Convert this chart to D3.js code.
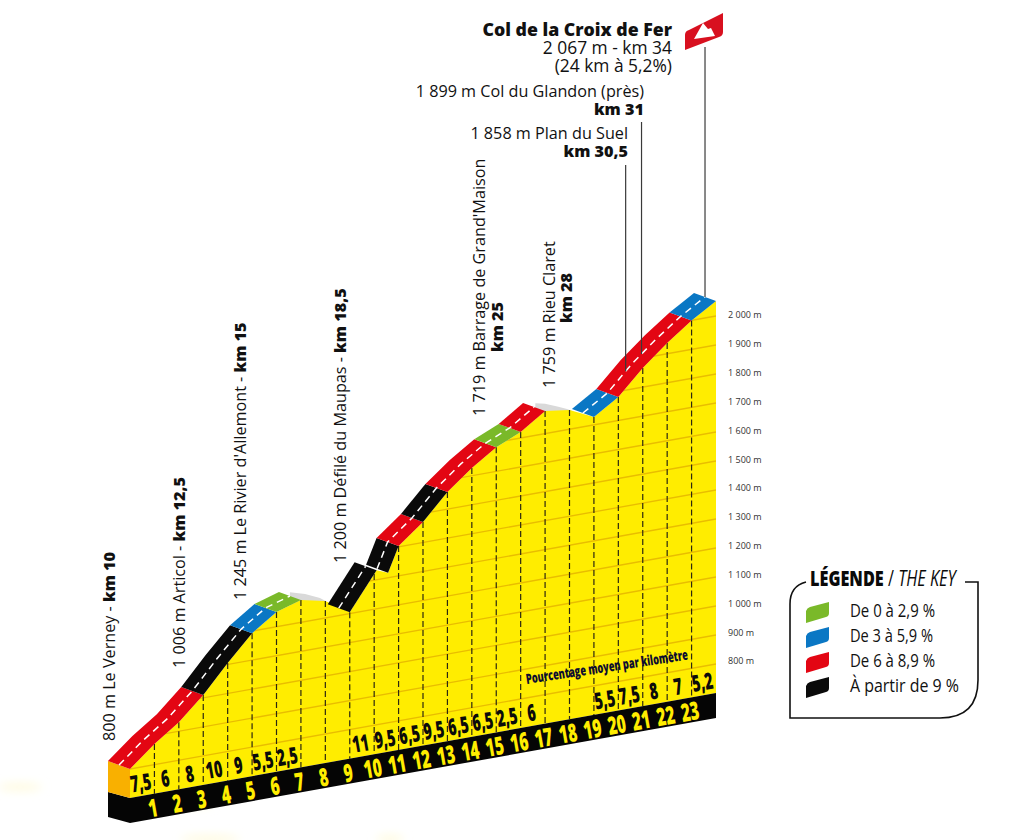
<!DOCTYPE html>
<html><head><meta charset="utf-8">
<script src="https://cdnjs.cloudflare.com/ajax/libs/d3/7.8.5/d3.min.js"></script>
<style>html,body{margin:0;padding:0;background:#fff}svg{display:block}text{font-family:"Open Sans",sans-serif}</style>
</head><body><svg id="c" width="1024" height="840"></svg>
<script>
const profileKm   = [10,11,12,13,14,15,16,17,18,19,20.1,20.57,21,22,23,24,25,26,27,28,29,30,31,32,33,34];
const profileElev = [800,871,931,1010,1105,1193,1251,1277,1259,1205,1333,1317,1403,1471,1559,1627,1683,1721,1778,1766,1727,1781,1866,1937,2000,2052];
const ridgeKm   = [16.55,17.17,17.78,26.6,27,27.5,27.9];
const ridgeElev = [1311,1295,1272,1811,1803,1786,1771];
const segFrom  = [10,13,15,16,19,20.57,21,22,23,25,26,29,30,33];
const segTo    = [13,15,16,17,20.1,21,22,23,25,26,27,30,33,34];
const segClass = ["red","black","blue","green","black","black","red","black","red","green","red","blue","red","blue"];
const kmNumbers = d3.range(1,24);
const pctValues = ["7,5","6","8","10","9","5,5","2,5","","","11","9,5","6,5","9,5","6,5","6,5","2,5","6","","","5,5","7,5","8","7","5,2"];
const elevTicks = [800,900,1000,1100,1200,1300,1400,1500,1600,1700,1800,1900,2000];
const legendLabels = ["De 0 à 2,9 %","De 3 à 5,9 %","De 6 à 8,9 %","À partir de 9 %"];
const legendWidths = [85,83,85,109];
const legendClasses = ["green","blue","red","black"];
const leaderKm = [30.3,30.95,33.55];
const colors = {red:"#e30613",black:"#0a0a0a",blue:"#0a77c4",green:"#7ab929"};

const svg = d3.select("#c");
const kmX = d3.scaleLinear([10,34],[130,716]);
const baseY = d3.scaleLinear([10,34],[798,693]);     // sloped foot of the profile at 700 m
const rise = d3.scaleLinear([700,2100],[0,406]);
const axisY = d3.scaleLinear([800,2000],[661,315]);
const elevAt = d3.scaleLinear(profileKm,profileElev);
const depth = [-22,-8];
const py = (k,e)=>baseY(k)-rise(e);
const front = k=>[kmX(k),py(k,elevAt(k))];
const back = k=>{const f=front(k);return [f[0]+depth[0],f[1]+depth[1]];};
const mid = k=>{const f=front(k);return [f[0]+depth[0]/2,f[1]+depth[1]/2];};
const line = d3.line();

// faint print halo round the foot of the page
const defs = svg.append("defs");
defs.append("filter").attr("id","soft").append("feGaussianBlur").attr("stdDeviation",5);
const halos = [[20,787,22],[195,803,18],[210,839,30],[245,785,22],[390,839,14]];
svg.append("g").attr("filter","url(#soft)").selectAll("ellipse").data(halos).join("ellipse")
  .attr("cx",d=>d[0]).attr("cy",d=>d[1]).attr("rx",d=>d[2]).attr("ry",4).attr("fill","#fffbe0");

// ridge caps on the flat tops
svg.append("g").selectAll("path").data([[0,3],[3,7]]).join("path")
  .attr("d",([a,b])=>{
    const top=d3.range(a,b).map(i=>[kmX(ridgeKm[i]),py(ridgeKm[i],ridgeElev[i])]);
    const endK=ridgeKm[b-1]+.25;
    return line([...top,front(endK),front(ridgeKm[a])])+"Z";})
  .attr("fill","#d9d9d9");

// yellow body
const body = [...profileKm.map(front),[kmX(34),baseY(34)],[kmX(10),baseY(10)]];
svg.append("clipPath").attr("id","bodyClip").append("path").attr("d",line(body)+"Z");
svg.append("path").attr("d",line(body)+"Z").attr("fill","#ffed00");
const body2=svg.append("g").attr("clip-path","url(#bodyClip)");
body2.selectAll("line").data(elevTicks).join("line")
  .attr("x1",kmX(10)).attr("x2",kmX(34))
  .attr("y1",d=>py(10,d)).attr("y2",d=>py(34,d))
  .attr("stroke","#e9bd00").attr("stroke-width",1.3);
svg.append("g").selectAll("line").data(kmNumbers).join("line")
  .attr("x1",d=>kmX(10+d)).attr("x2",d=>kmX(10+d))
  .attr("y1",d=>py(10+d,elevAt(10+d))).attr("y2",d=>baseY(10+d))
  .attr("stroke","#2c2810").attr("stroke-width",1.2).attr("stroke-dasharray","6 3");

// foot block and band
const foot = 25;
svg.append("path").attr("d",line([[kmX(10),baseY(10)],[kmX(34),baseY(34)],[kmX(34),baseY(34)+foot],[kmX(10),baseY(10)+foot]])+"Z").attr("fill","#050505");
svg.append("path").attr("d",line([[kmX(10)+depth[0],baseY(10)+depth[1]+2],[kmX(10),baseY(10)],[kmX(10),baseY(10)+foot],[kmX(10)+depth[0],baseY(10)+depth[1]+foot+2]])+"Z").attr("fill","#050505");
svg.append("path").attr("d",line([back(10),front(10),[kmX(10),baseY(10)],[kmX(10)+depth[0],baseY(10)+depth[1]+2]])+"Z").attr("fill","#f9b000");

// road
const segs = d3.range(segFrom.length).map(i=>{
  const a=segFrom[i],b=segTo[i];
  const ks=[a,...profileKm.filter(k=>k>a&&k<b),b];
  return {ks,cls:segClass[i]};
});
const road=svg.append("g");
road.selectAll("path.r").data(segs).join("path").attr("class","r")
  .attr("d",d=>line([...d.ks.map(front),...d.ks.slice().reverse().map(back)])+"Z")
  .attr("fill",d=>colors[d.cls]);
const runs=[[10,17],[19,20.1],[20.57,27],[29,34]];
road.selectAll("path.m").data(runs).join("path").attr("class","m")
  .attr("d",([a,b])=>line([a,...profileKm.filter(k=>k>a&&k<b),b].map(mid)))
  .attr("fill","none").attr("stroke","#fff").attr("stroke-width",1.5).attr("stroke-dasharray","7 5");

// numbers
const slant=-10;
svg.append("g").selectAll("text").data(kmNumbers).join("text")
  .attr("transform",d=>`translate(${kmX(10+d)},${baseY(10+d)+23}) rotate(${slant}) scale(.62,1)`)
  .attr("text-anchor","middle").attr("font-size",25).attr("font-weight",800).attr("fill","#ffed00").text(d=>d);
svg.append("g").selectAll("text").data(pctValues).join("text")
  .attr("transform",(d,i)=>`translate(${kmX(10.5+i)},${baseY(10.5+i)-5}) rotate(${slant}) scale(.61,1)`)
  .attr("text-anchor","middle").attr("font-size",23).attr("font-weight",800).attr("fill","#0b0b0b").text(d=>d);
svg.append("text").attr("transform",`translate(${kmX(26.25)},${py(26.25,800)-14}) rotate(-8.6) scale(.66,1)`)
  .attr("font-size",14).attr("font-weight",800).attr("fill","#0c0c30").text("Pourcentage moyen par kilomètre");

// axis
const fmt = d=>d3.format(",")(d).replace(",","\u00a0")+" m";
const ax = svg.append("g").attr("transform","translate(728,0)").call(d3.axisRight(axisY).tickValues(elevTicks).tickSize(0).tickPadding(0).tickFormat(fmt));
ax.select(".domain").remove();
ax.selectAll("text").attr("font-size",9).attr("fill","#333").style("font-family",'"Open Sans",sans-serif');

// leaders
const backAt=k=>{const m=mid(k);return m[1];};
const leaderTop=[165,122,47];
const leaderPts=leaderKm.map((k,i)=>{const x=kmX(k);const kk=kmX.invert(x+11);return {x,y1:leaderTop[i],y2:backAt(Math.min(kk,34))};});
svg.append("g").selectAll("line").data(leaderPts).join("line")
  .attr("x1",d=>d.x).attr("x2",d=>d.x).attr("y1",d=>d.y1).attr("y2",d=>d.y2)
  .attr("stroke","#3a3a3a").attr("stroke-width",1.2);

// flag
const flag=svg.append("g");
flag.append("path").attr("d","M685,35Q685,31 689,30L723,13V32Q723,36 719,37L685,50Z").attr("fill","#d8101f");
flag.append("path").attr("d","M694,39L703,23L708,29L711,28L715,36Z").attr("fill","#fff");

// horizontal labels
const horiz=[
 ["Col de la Croix de Fer",672,36,17.7,800],
 ["2 067 m - km 34",672,54,17.4,400],
 ["(24 km à 5,2%)",672,72,17.4,400],
 ["1 899 m Col du Glandon (près)",644,97,16.2,400],
 ["km 31",644,115,16.2,800],
 ["1 858 m Plan du Suel",628,139,16.2,400],
 ["km 30,5",628,157,16.2,800]];
svg.append("g").selectAll("text").data(horiz).join("text")
  .attr("x",d=>d[1]).attr("y",d=>d[2]).attr("font-size",d=>d[3]).attr("font-weight",d=>d[4])
  .attr("text-anchor","end").attr("fill","#111").text(d=>d[0]);

// rotated labels
const rotated=[
 [115,741,"800 m Le Verney - ","km 10"],
 [185,668,"1 006 m Articol - ","km 12,5"],
 [246,600,"1 245 m Le Rivier d'Allemont - ","km 15"],
 [346,563,"1 200 m Défilé du Maupas - ","km 18,5"],
 [485,416,"1 719 m Barrage de Grand'Maison",""],
 [503,352,"","km 25"],
 [555,388,"1 759 m Rieu Claret",""],
 [572,323,"","km 28"]];
const rt=svg.append("g").selectAll("text").data(rotated).join("text")
  .attr("transform",d=>`translate(${d[0]},${d[1]}) rotate(-90)`)
  .attr("font-size",16.2).attr("fill","#111");
rt.append("tspan").text(d=>d[2]);
rt.append("tspan").attr("font-weight",800).text(d=>d[3]);

// legend
const lg=svg.append("g");
lg.append("path").attr("d","M806,582Q790,586 790,604V718H940Q978,718 978,680V582H965")
  .attr("fill","none").attr("stroke","#111").attr("stroke-width",1.6);
const lt=lg.append("text").attr("transform","translate(810,586) scale(.775,1)").attr("font-size",21).attr("fill","#0a0a0a");
lt.append("tspan").attr("font-weight",800).text("LÉGENDE ");
lt.append("tspan").attr("font-weight",400).text("/ ");
lt.append("tspan").attr("font-style","italic").attr("font-weight",400).text("THE KEY");
const swatchY=d3.scaleBand(legendClasses,[602,702]).padding(0);
const rows=lg.selectAll("g.row").data(legendClasses).join("g").attr("class","row")
  .attr("transform",d=>`translate(806,${swatchY(d)})`);
rows.append("path").attr("d","M0,9Q1,6 4,5L23,0V11Q23,14 20,15L0,21Z").attr("fill",d=>colors[d]);
rows.append("text").attr("x",44).attr("y",15).attr("font-size",18).attr("fill","#111")
  .attr("textLength",(d,i)=>legendWidths[i]).attr("lengthAdjust","spacingAndGlyphs")
  .text((d,i)=>legendLabels[i]);
</script></body></html>
